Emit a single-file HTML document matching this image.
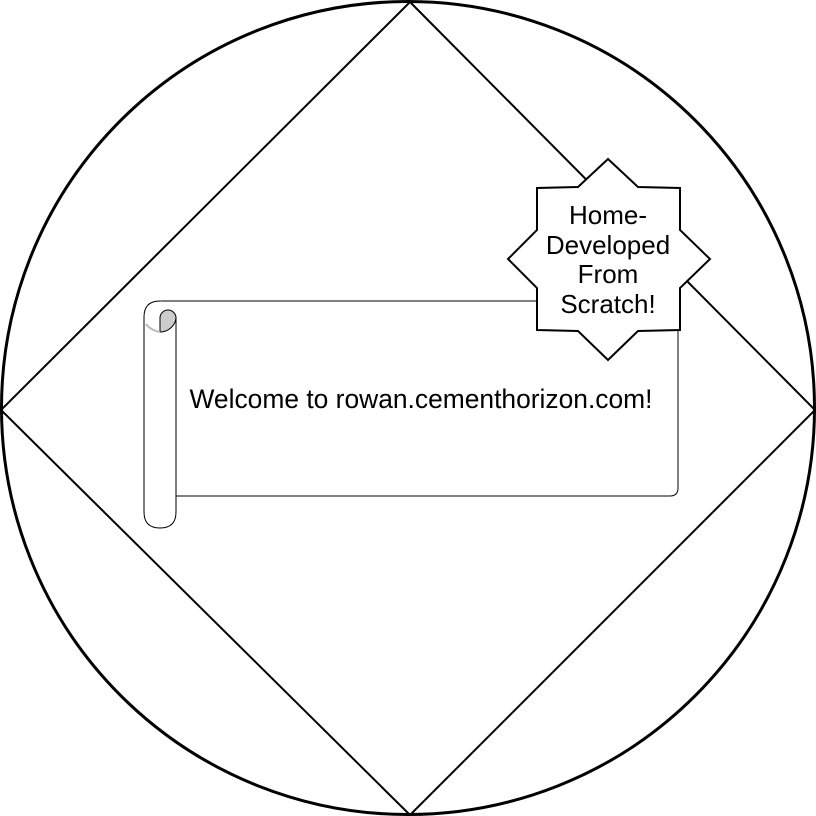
<!DOCTYPE html>
<html><head><meta charset="utf-8"><style>body{margin:0;background:#fff}svg{display:block}</style></head>
<body>
<svg width="816" height="816" viewBox="0 0 816 816" xmlns="http://www.w3.org/2000/svg">
<circle cx="408" cy="408" r="406.5" fill="#fff" stroke="#000" stroke-width="3"/>
<polygon points="410,2 815,410 410,815 1,410" fill="none" stroke="#000" stroke-width="2"/>
<g>
<path d="M160,301 H670 Q678,301 678,309 V488 Q678,496 670,496 H176" fill="#fff" stroke="#000" stroke-width="1"/>
<path d="M160,301 Q144,301 144,317 V512 Q144,528 160,528 Q176,528 176,512 V317" fill="#fff" stroke="#000" stroke-width="1"/>
<path d="M160,332 V318 A8,8 0 0 1 176,318 A16,16 0 0 1 160,332 Z" fill="#ccc" stroke="#000" stroke-width="1"/>
<path d="M146,324 Q150,330 160,332" fill="none" stroke="#bbb" stroke-width="2"/>
<text x="421" y="408" font-family="Liberation Sans, sans-serif" font-size="26.4" text-anchor="middle">Welcome to rowan.cementhorizon.com!</text>
</g>
<g>
<polygon points="608,159 638,187 680,188 680,230 710,259 680,288 680,330 638,331 608,360 578,331 537,330 537,288 508,259 537,230 537,188 578,187" fill="#fff" stroke="#000" stroke-width="2"/>
<text font-family="Liberation Sans, sans-serif" font-size="26" text-anchor="middle">
<tspan x="608" y="224">Home-</tspan><tspan x="608" y="254">Developed</tspan><tspan x="608" y="283">From</tspan><tspan x="608" y="313">Scratch!</tspan></text>
</g>
</svg>
</body></html>
